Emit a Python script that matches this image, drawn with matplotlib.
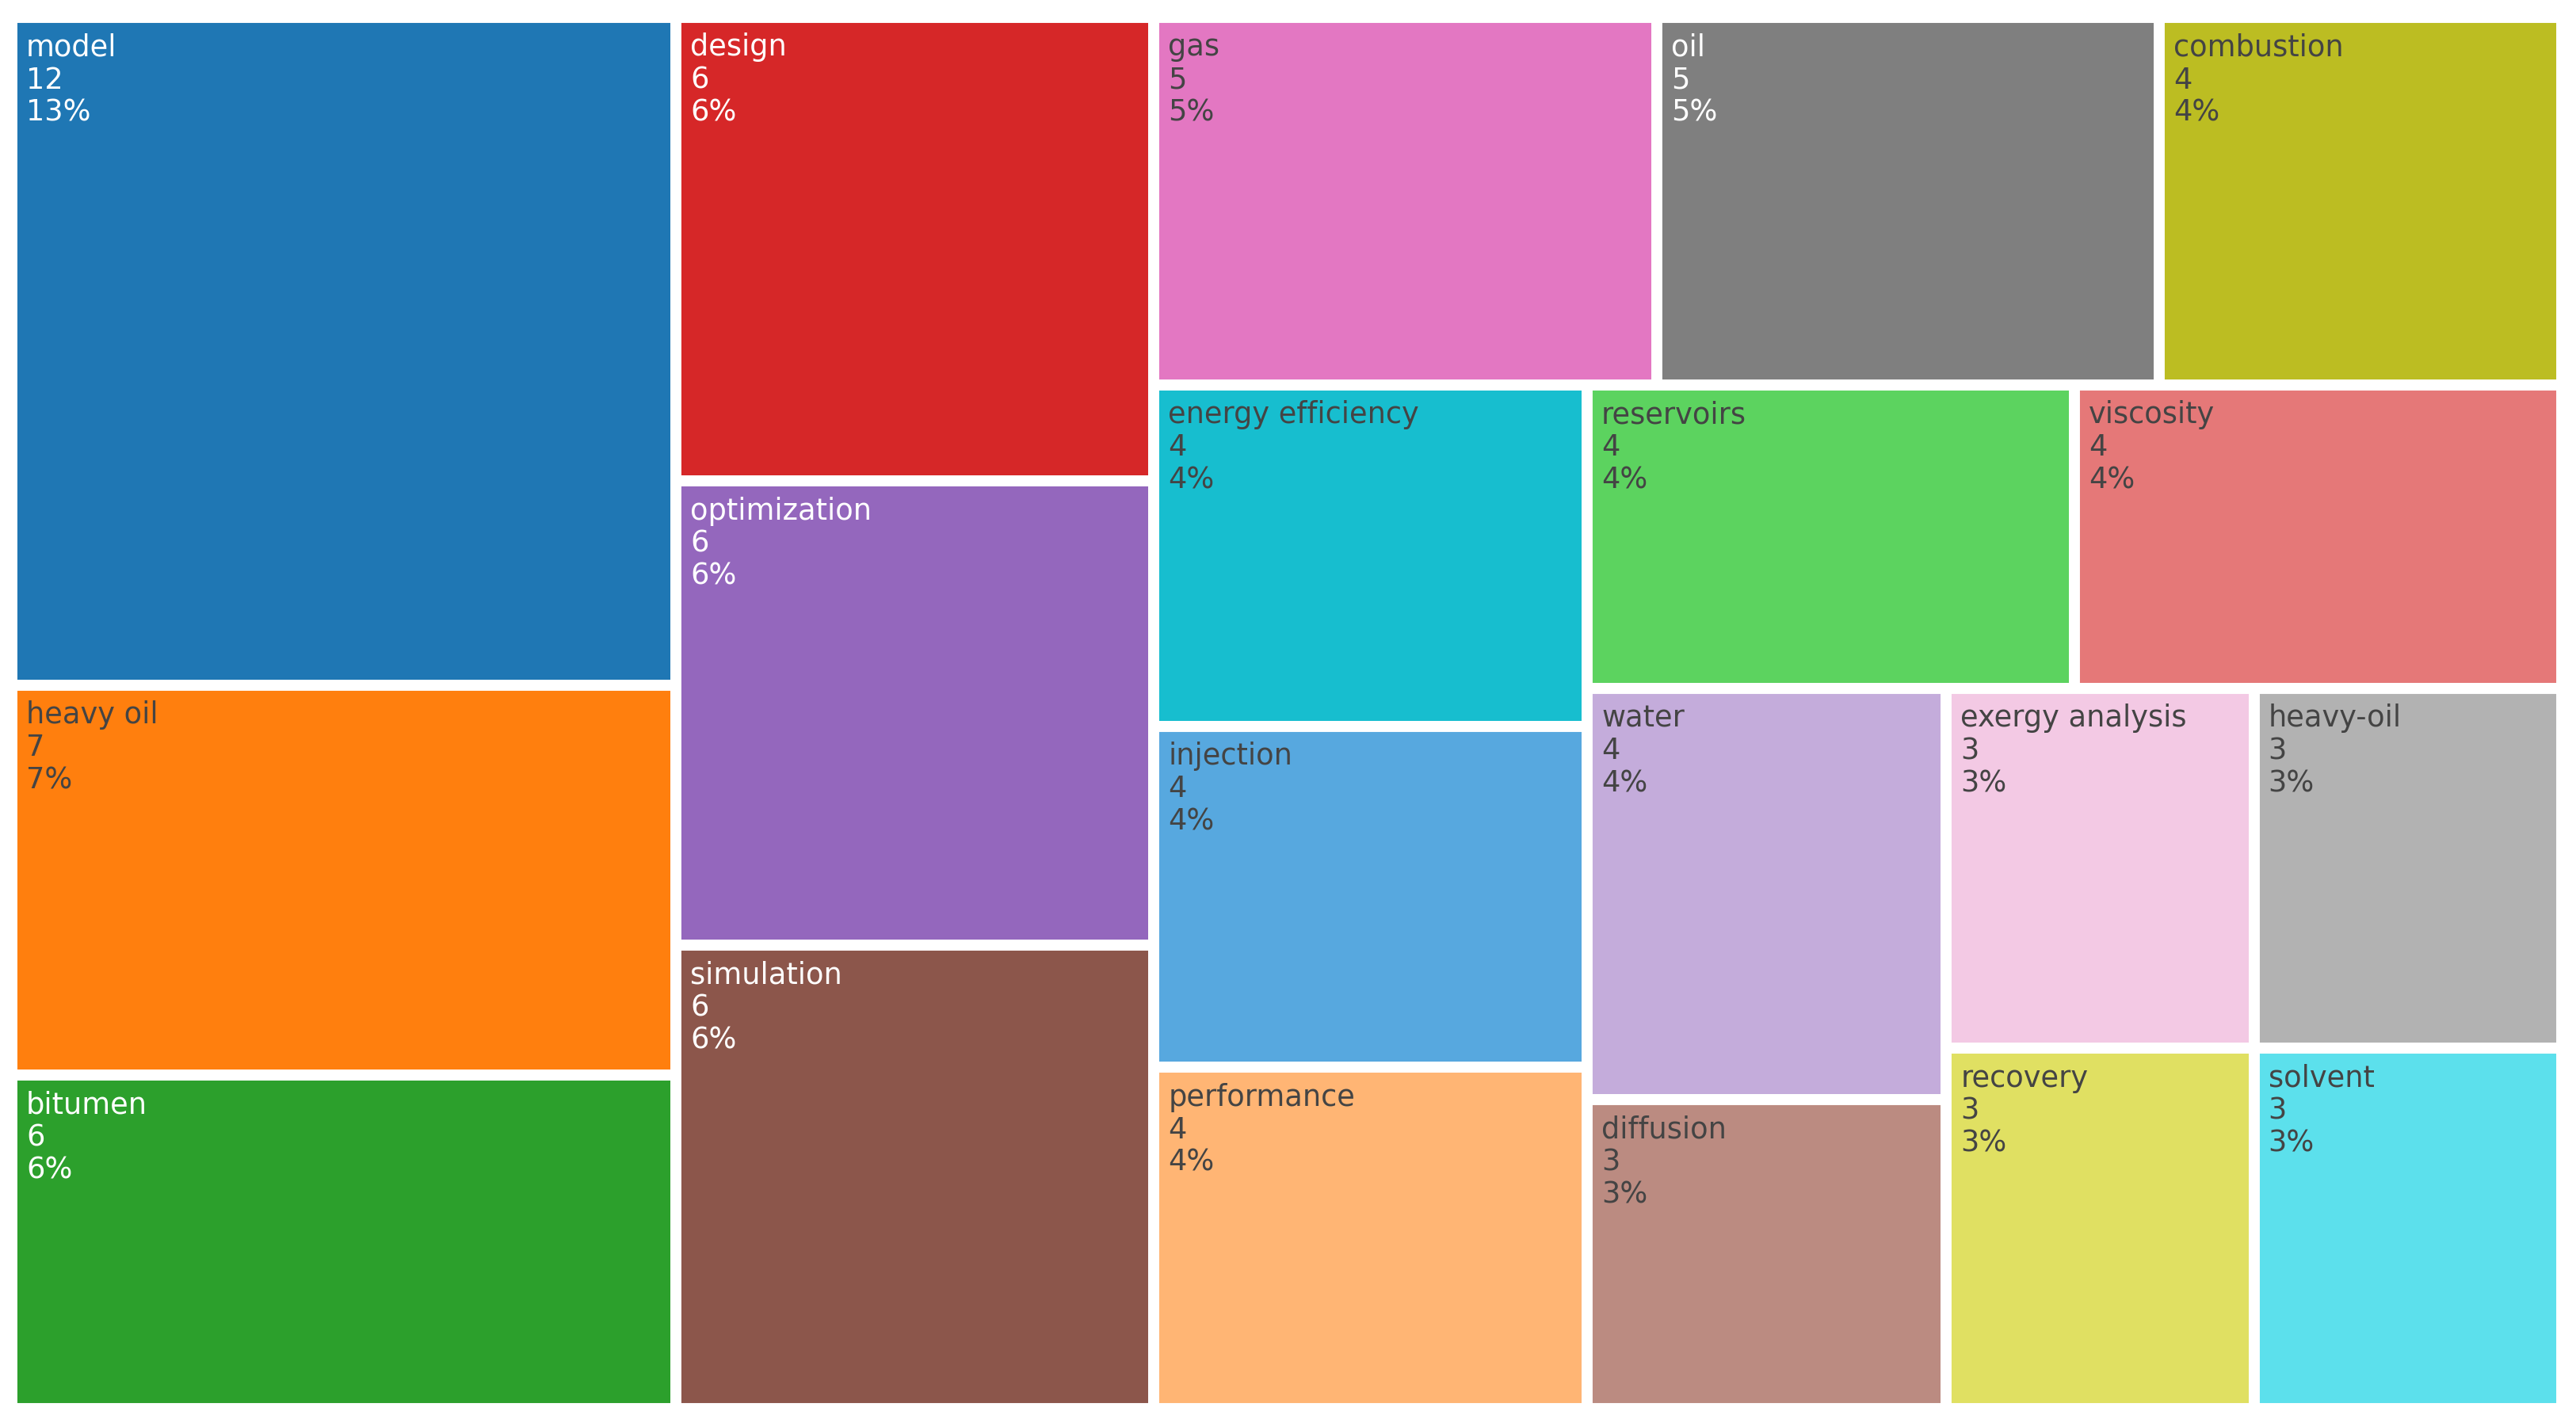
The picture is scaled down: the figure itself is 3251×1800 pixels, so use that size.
# Treemap of keyword frequencies (squarified layout, d3 style)

import matplotlib
matplotlib.use('Agg')
import matplotlib.pyplot as plt
from matplotlib.patches import Rectangle
from matplotlib.colors import to_rgb

labels = ['model', 'heavy oil', 'bitumen', 'design', 'optimization', 'simulation',
          'gas', 'oil', 'combustion', 'energy efficiency', 'injection', 'performance',
          'reservoirs', 'viscosity', 'water', 'diffusion', 'exergy analysis',
          'heavy-oil', 'recovery', 'solvent']
counts = [12, 7, 6, 6, 6, 6, 5, 5, 4, 4, 4, 4, 4, 4, 4, 3, 3, 3, 3, 3]
colors = ['#1f77b4', '#ff7f0e', '#2ca02c', '#d62728', '#9467bd', '#8c564b',
          '#e377c2', '#7f7f7f', '#bcbd22', '#17becf', '#57a8df', '#ffb574',
          '#5cd35f', '#e57878', '#c4acdb', '#bb8b81', '#f3c9e4', '#b2b2b2',
          '#e0e062', '#5ce0ec']


def squarify(values, x0, y0, x1, y1, ratio=1.0):
    # same rule as d3.treemapSquarify
    rects = []
    total = float(sum(values))
    i0 = 0
    n = len(values)
    while i0 < n:
        dx, dy = x1 - x0, y1 - y0
        i1 = i0
        s = values[i1]
        i1 += 1
        vmin = vmax = s
        alpha = max(dy / dx, dx / dy) / (total * ratio)
        beta = s * s * alpha
        best = max(vmax / beta, beta / vmin)
        while i1 < n:
            v = values[i1]
            s2 = s + v
            beta = s2 * s2 * alpha
            r = max(max(vmax, v) / beta, beta / min(vmin, v))
            if r > best:
                break
            s = s2
            vmin, vmax = min(vmin, v), max(vmax, v)
            best = r
            i1 += 1
        row = values[i0:i1]
        if dx < dy:
            # horizontal row on top
            h = dy * s / total
            x = x0
            for v in row:
                w = dx * v / s
                rects.append((x, y0, w, h))
                x += w
            y0 += h
        else:
            # vertical column on the left
            w = dx * s / total
            y = y0
            for v in row:
                h = dy * v / s
                rects.append((x0, y, w, h))
                y += h
            x0 += w
        total -= s
        i0 = i1
    return rects


order = sorted(range(len(labels)), key=lambda i: (-counts[i], labels[i]))
labels = [labels[i] for i in order]
counts = [counts[i] for i in order]
total = sum(counts)

A = 1.55  # aspect of the layout space
rects = squarify(counts, 0, 0, A, 1)

fig = plt.figure(figsize=(32.51, 18), dpi=100)
W, H = 3251, 1800
ax = fig.add_axes([15 / W, 1 - 1778 / H, (3233 - 15) / W, (1778 - 22) / H])
ax.set_xlim(0, A)
ax.set_ylim(1, 0)
ax.axis('off')

for (x, y, w, h), lab, c, col in zip(rects, labels, counts, colors):
    ax.add_patch(Rectangle((x, y), w, h, facecolor=col, edgecolor='white',
                           linewidth=10))
    r, g, b = to_rgb(col)
    lum = 0.299 * r + 0.587 * g + 0.114 * b
    tcol = 'white' if lum < 0.53 else '#444444'
    pct = int(c * 100 / total + 0.5)
    ax.annotate(f'{lab}\n{c}\n{pct}%', xy=(x, y), xytext=(13, -14),
                textcoords='offset points', ha='left', va='top',
                fontsize=26.5, color=tcol, linespacing=1.14,
                family='DejaVu Sans')

fig.savefig('out.png', dpi=100, facecolor='white')
